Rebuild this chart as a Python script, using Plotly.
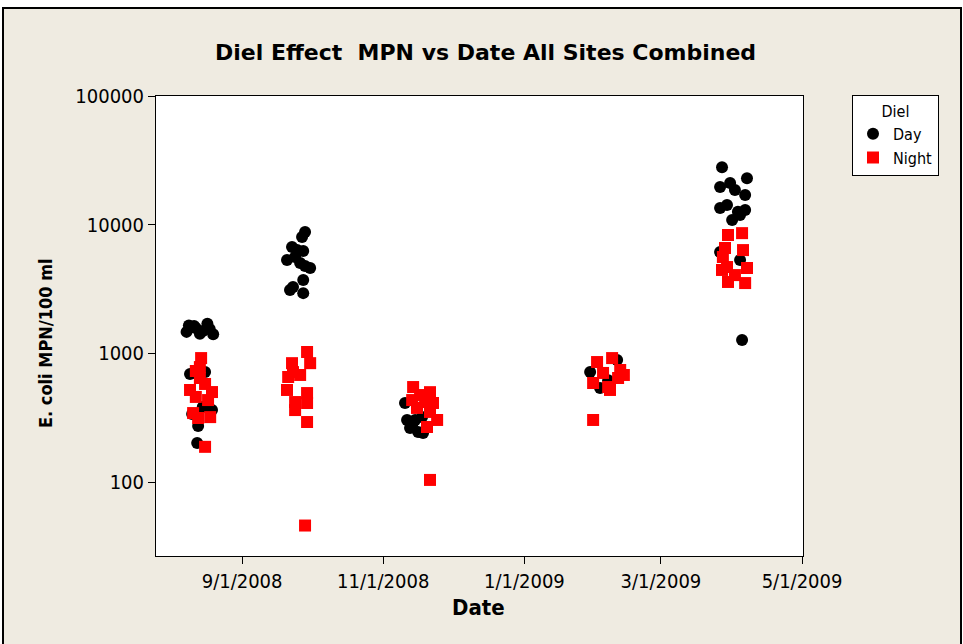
import plotly.graph_objects as go

# ---------------- data ----------------
day_dates = [
    # Aug 2008 sampling
    "2008-08-09", "2008-08-12", "2008-08-15", "2008-08-17", "2008-08-18",
    "2008-08-19 12:00", "2008-08-08", "2008-08-13 18:00", "2008-08-11 06:00",
    "2008-08-09 12:00", "2008-08-16", "2008-08-15", "2008-08-19",
    "2008-08-10 10:00", "2008-08-13", "2008-08-12 14:00",
    # Sep 2008 sampling
    "2008-09-28 05:00", "2008-09-26 22:00", "2008-09-22 14:00", "2008-09-24 19:00",
    "2008-09-27 10:00", "2008-09-20 10:00", "2008-09-23 22:00", "2008-09-26 02:00",
    "2008-09-30 10:00", "2008-09-28 05:00", "2008-09-27 10:00", "2008-09-23",
    "2008-09-21 17:00", "2008-09-27 10:00",
    # Nov 2008 sampling
    "2008-11-10 10:00", "2008-11-11 07:00", "2008-11-12 14:00", "2008-11-16 02:00",
    "2008-11-18 05:00", "2008-11-14 19:00", "2008-11-17 19:00", "2008-11-13 12:00",
    # Feb 2009 sampling
    "2009-01-29 10:00", "2009-02-10 02:00", "2009-02-06 05:00", "2009-02-02 17:00",
    # Apr 2009 sampling
    "2009-03-27 10:00", "2009-04-07 05:00", "2009-03-26 14:00", "2009-03-30 22:00",
    "2009-04-02", "2009-04-06 10:00", "2009-03-26 14:00", "2009-03-29 14:00",
    "2009-04-03 07:00", "2009-04-06 10:00", "2009-03-31 19:00", "2009-04-04 05:00",
    "2009-03-26 14:00", "2009-04-04 05:00", "2009-04-05 02:00",
]
day_mpn = [
    1650, 1575, 1490, 1700, 1550, 1410, 1470, 1420, 1630,
    692, 717, 384, 363, 338, 273, 201,
    8770, 8020, 6710, 6350, 6250, 5320, 5610, 5040, 4610, 4780, 3720, 3280, 3110, 2940,
    412, 304, 263, 245, 241, 304, 321, 278,
    716, 889, 620, 538,
    28000, 23000, 19600, 21100, 18600, 17000, 13500, 14200, 12600, 13000, 10900, 11900,
    6140, 5320, 1270,
]

night_dates = [
    # Aug 2008
    "2008-08-14 07:00", "2008-08-12", "2008-08-13 18:00", "2008-08-09 12:00",
    "2008-08-16", "2008-08-19", "2008-08-17 07:00", "2008-08-12",
    "2008-08-13 18:00", "2008-08-10 20:00", "2008-08-18 05:00", "2008-08-13",
    "2008-08-16",
    # Sep 2008
    "2008-09-29 02:00", "2008-09-30 10:00", "2008-09-22 14:00", "2008-09-20 22:00",
    "2008-09-26 02:00", "2008-09-20 10:00", "2008-09-29 02:00", "2008-09-23 22:00",
    "2008-09-29 02:00", "2008-09-23 22:00", "2008-09-29 02:00", "2008-09-28 05:00",
    "2008-09-23",
    # Nov 2008
    "2008-11-13 22:00", "2008-11-21 05:00", "2008-11-13 12:00", "2008-11-19 02:00",
    "2008-11-22 12:00", "2008-11-15 14:00", "2008-11-21 05:00", "2008-11-24 07:00",
    "2008-11-19 22:00", "2008-11-21 05:00", "2008-11-16 22:00",
    # Feb 2009
    "2009-02-01 10:00", "2009-02-07 22:00", "2009-02-11 10:00", "2009-01-30 17:00",
    "2009-02-06 05:00", "2009-02-10 12:00", "2009-02-04", "2009-02-07",
    "2009-01-30 17:00", "2009-02-13",
    # Apr 2009
    "2009-03-30", "2009-04-05 02:00", "2009-03-28 17:00", "2009-04-05 12:00",
    "2009-03-27 19:00", "2009-03-29 14:00", "2009-04-07 05:00", "2009-03-30",
    "2009-04-06 10:00", "2009-04-02", "2009-03-27 10:00",
]
night_mpn = [
    920, 730, 644, 520, 579, 501, 434, 459, 783, 344, 320, 315, 188,
    1026, 840, 840, 656, 680, 520, 492, 419, 412, 363, 293, 46, 716,
    548, 500, 434, 419, 412, 377, 351, 304, 268, 104, 475,
    857, 920, 743, 589, 548, 644, 705, 520, 304, 680,
    8320, 8600, 6590, 6350, 5610, 4690, 4610, 3590, 3520, 4060, 4450,
]

x_tick_vals = ["2008-09-01", "2008-11-01", "2009-01-01", "2009-03-01", "2009-05-01"]
x_tick_text = ["9/1/2008", "11/1/2008", "1/1/2009", "3/1/2009", "5/1/2009"]
y_tick_vals = [100, 1000, 10000, 100000]
y_tick_text = ["100", "1000", "10000", "100000"]

# ---------------- styling ----------------
FONT = "DejaVu Sans Condensed, DejaVu Sans, Tahoma, sans-serif"
TFONT = "DejaVu Sans, Tahoma, sans-serif"
BG = "#EFEBE1"

W, H = 963, 644
# plot-area edges in page pixels
L, R, T, B = 156, 803, 96, 556
pw, ph = R - L, B - T


def px_x(x):
    return (x - L) / pw


def px_y(y):
    return (B - y) / ph


fig = go.Figure()
fig.add_trace(go.Scatter(
    x=day_dates, y=day_mpn, mode="markers", name="Day",
    marker=dict(symbol="circle", size=12, color="black", line=dict(width=0)),
))
fig.add_trace(go.Scatter(
    x=night_dates, y=night_mpn, mode="markers", name="Night",
    marker=dict(symbol="square", size=12, color="#FF0000", line=dict(width=0)),
))

fig.update_layout(
    width=W, height=H,
    margin=dict(l=L, r=W - R, t=T, b=H - B, pad=0),
    paper_bgcolor=BG, plot_bgcolor="white",
    font=dict(family=FONT, size=20, color="black"),
    showlegend=True,
    legend=dict(
        x=px_x(852), y=px_y(95), xanchor="left", yanchor="top",
        bgcolor="white", bordercolor="black", borderwidth=1,
        font=dict(family=FONT, size=16, color="black"),
        title=dict(text="Diel", side="top center", font=dict(family=FONT, size=16)),
        itemsizing="constant", tracegroupgap=0,
    ),
    xaxis=dict(
        type="date",
        range=["2008-07-25 19:00", "2009-05-01 10:00"],
        tickvals=x_tick_vals, ticktext=x_tick_text,
        ticks="outside", ticklen=7, tickwidth=1, tickcolor="black",
        showline=True, linecolor="black", linewidth=1, mirror=True,
        showgrid=False, zeroline=False,
        tickfont=dict(family=FONT, size=20, color="black"),
    ),
    yaxis=dict(
        type="log",
        range=[1.426, 5.0],
        tickvals=y_tick_vals, ticktext=y_tick_text,
        ticks="outside", ticklen=7, tickwidth=1, tickcolor="black",
        showline=True, linecolor="black", linewidth=1, mirror=True,
        showgrid=False, zeroline=False,
        tickfont=dict(family=FONT, size=20, color="black"),
    ),
    annotations=[
        dict(text="Diel Effect  MPN vs Date All Sites Combined",
             xref="paper", yref="paper", x=px_x(485), y=px_y(53),
             xanchor="center", yanchor="middle", showarrow=False,
             font=dict(family=TFONT, size=22, color="black", weight="bold")),
        dict(text="Date",
             xref="paper", yref="paper", x=px_x(478), y=px_y(607),
             xanchor="center", yanchor="middle", showarrow=False,
             font=dict(family=FONT, size=22, color="black", weight="bold")),
        dict(text="E. coli MPN/100 ml", textangle=-90,
             xref="paper", yref="paper", x=px_x(45), y=px_y(343),
             xanchor="center", yanchor="middle", showarrow=False,
             font=dict(family=FONT, size=18, color="black", weight="bold")),
    ],
    shapes=[
        # white strip outside the frame (top and sides, as in the reference)
        dict(type="rect", xref="paper", yref="paper",
             x0=px_x(0), x1=px_x(963), y0=px_y(7), y1=px_y(0),
             line=dict(width=0), fillcolor="white", layer="below"),
        dict(type="rect", xref="paper", yref="paper",
             x0=px_x(0), x1=px_x(2), y0=px_y(644), y1=px_y(0),
             line=dict(width=0), fillcolor="white", layer="below"),
        dict(type="rect", xref="paper", yref="paper",
             x0=px_x(962), x1=px_x(963), y0=px_y(644), y1=px_y(0),
             line=dict(width=0), fillcolor="white", layer="below"),
        # outer frame
        dict(type="rect", xref="paper", yref="paper",
             x0=px_x(3), x1=px_x(961), y0=px_y(660), y1=px_y(8),
             line=dict(color="black", width=2), fillcolor="rgba(0,0,0,0)",
             layer="below"),
    ],
)

# remove the browser's default 8px body margin so the figure fills the page
fig.write_html(
    "out.html",
    config={"displayModeBar": False},
    post_script="document.body.style.margin='0';",
)
